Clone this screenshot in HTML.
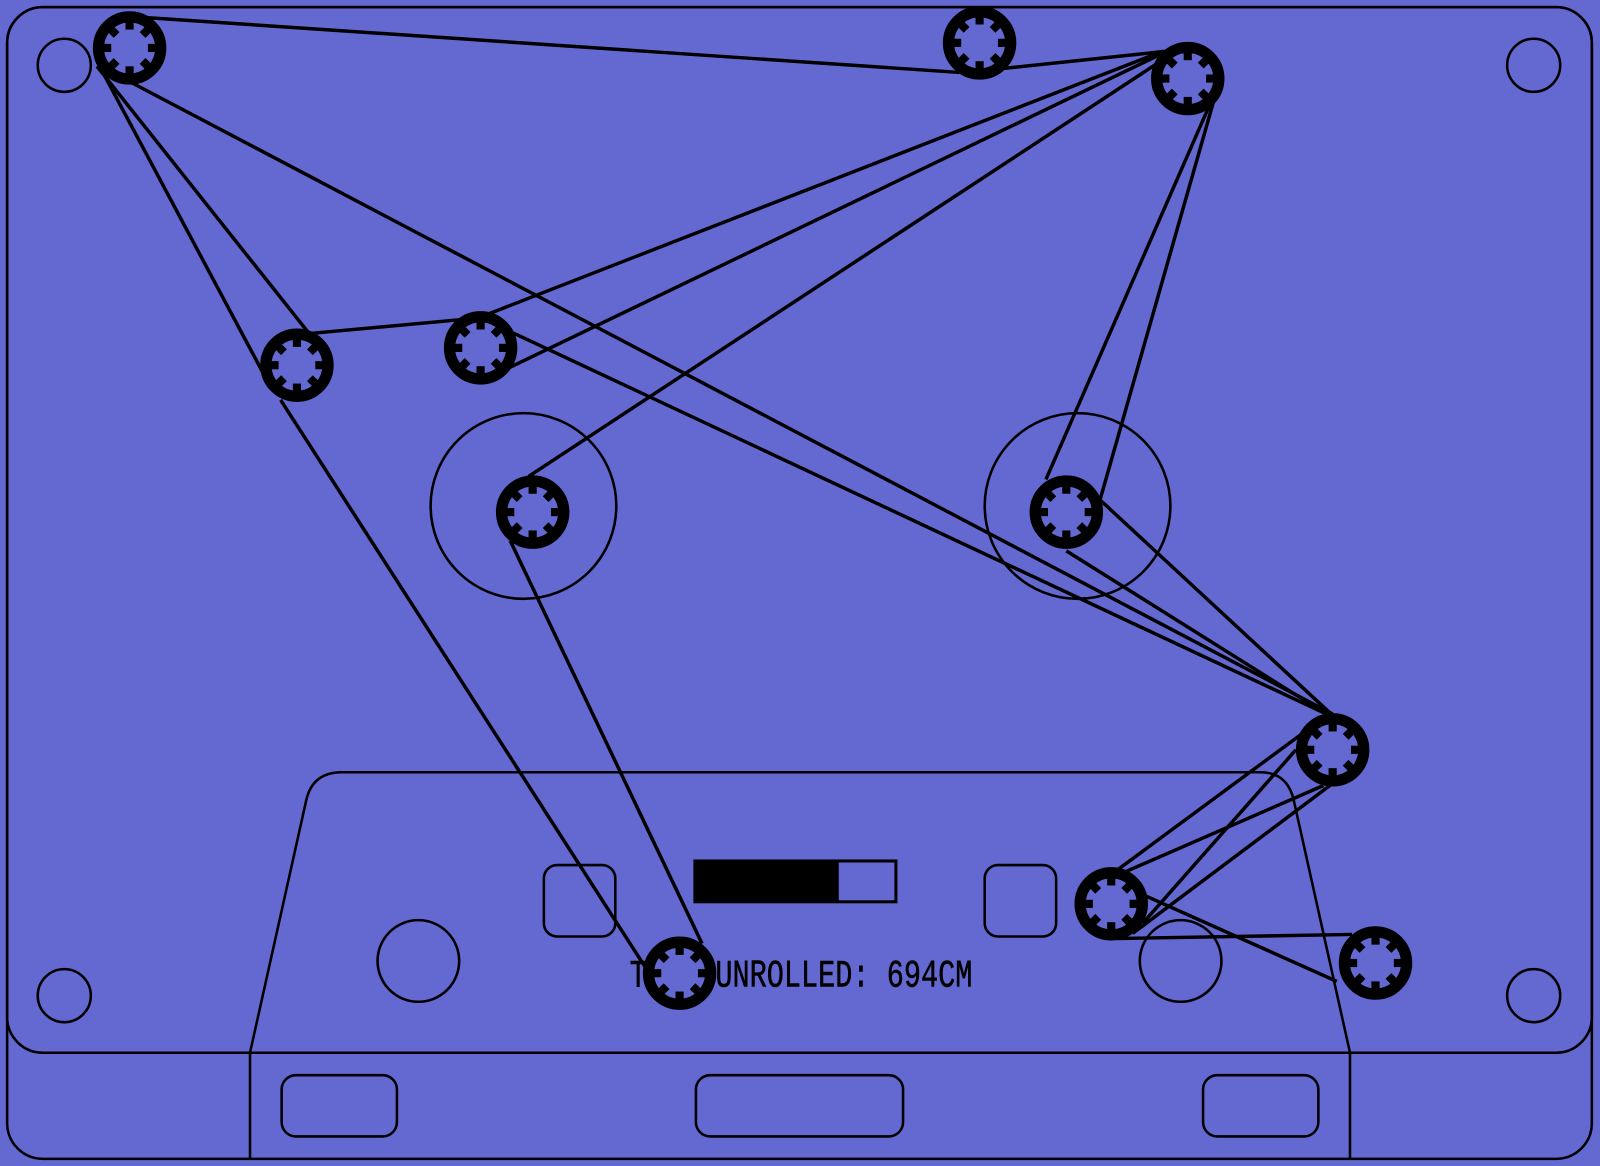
<!DOCTYPE html>
<html><head><meta charset="utf-8">
<style>
html,body{margin:0;padding:0;background:#6369d0;}
svg{display:block;}
</style></head>
<body>
<svg id="c" width="1600" height="1166" viewBox="0 0 1568 1143" preserveAspectRatio="none">
<rect width="1568" height="1143" fill="#6369d0"/>
<g fill="none" stroke="#000" stroke-width="2.5">
  <rect x="7" y="7" width="1553" height="1129" rx="35"/>
  <rect x="7" y="7" width="1553" height="1025" rx="35"/>
  <path d="M245 1032 L300 785 Q306 757 335 757 L1235 757 Q1262 757 1268 785 L1323 1032"/>
  <line x1="245" y1="1032" x2="245" y2="1136"/>
  <line x1="1323" y1="1032" x2="1323" y2="1136"/>
  <rect x="276" y="1054" width="113" height="60" rx="14"/>
  <rect x="682" y="1054" width="203" height="60" rx="14"/>
  <rect x="1179" y="1054" width="113" height="60" rx="14"/>
  <circle cx="63" cy="64" r="26"/>
  <circle cx="1503" cy="64" r="26"/>
  <circle cx="63" cy="976" r="26"/>
  <circle cx="1503" cy="976" r="26"/>
  <circle cx="513" cy="496" r="91"/>
  <circle cx="1056" cy="496" r="91"/>
  <circle cx="410" cy="942" r="40"/>
  <circle cx="1157" cy="942" r="40"/>
  <rect x="533" y="848" width="70" height="70" rx="13"/>
  <rect x="965" y="848" width="70" height="70" rx="13"/>
</g>
<rect x="681" y="844" width="197" height="40" fill="none" stroke="#000" stroke-width="3"/>
<rect id="pfill" x="681" y="844" width="141" height="40" fill="#000"/>
<text x="785" y="967" text-anchor="middle" font-family="'Liberation Mono',monospace" font-size="28" fill="#000" stroke="#000" stroke-width="0.4" transform="translate(0,-338.5) scale(1,1.35)">TAPE UNROLLED: 694CM</text>
<g id="tape" stroke="#000" stroke-width="3.4" fill="none"></g>
<g id="spools"></g>
</svg>
<script>
const spoolX=[127,960,1164,291,471,522,1045,1306,1089,1348,666];
const spoolY=[47,42,77,358,341,502,502,735,886,944,954];
const tapeSegs=[
[140,17,940,71],[975,68,1145,50],[1140,50,478,308],[1140,52,500,360],[1145,55,518,467],
[1188,97,1025,470],[1190,97,1078,490],[95,65,303,327],[303,327,455,313],[95,60,258,366],
[275,392,640,960],[127,80,1306,700],[500,325,1300,700],[1045,540,1300,700],[1078,490,1310,705],
[500,530,688,925],[1275,720,1092,855],[1297,770,1095,858],[1270,735,1120,905],[1310,765,1110,915],
[1095,920,1325,916],[1120,877,1310,962]
];
const NS='http://www.w3.org/2000/svg';
const tape=document.getElementById('tape');
tapeSegs.forEach((s,i)=>{
  const l=document.createElementNS(NS,'line');
  l.setAttribute('x1',s[0]);l.setAttribute('y1',s[1]);l.setAttribute('x2',s[2]);l.setAttribute('y2',s[3]);
  
  
  tape.appendChild(l);
});
const sp=document.getElementById('spools');
spoolX.forEach((x,i)=>{
  const y=spoolY[i];
  const g=document.createElementNS(NS,'g');
  
  
  const c=document.createElementNS(NS,'circle');
  c.setAttribute('cx',x);c.setAttribute('cy',y);c.setAttribute('r',30.5);
  c.setAttribute('fill','#6369d0');c.setAttribute('stroke','#000');c.setAttribute('stroke-width','11');
  g.appendChild(c);
  for(let k=0;k<8;k++){
    const r=document.createElementNS(NS,'rect');
    r.setAttribute('x',x-4);r.setAttribute('y',y-27);r.setAttribute('width',8);r.setAttribute('height',9);
    r.setAttribute('fill','#000');
    r.setAttribute('transform','rotate('+(k*45)+' '+x+' '+y+')');
    g.appendChild(r);
  }
  sp.appendChild(g);
});
</script>
</body></html>
